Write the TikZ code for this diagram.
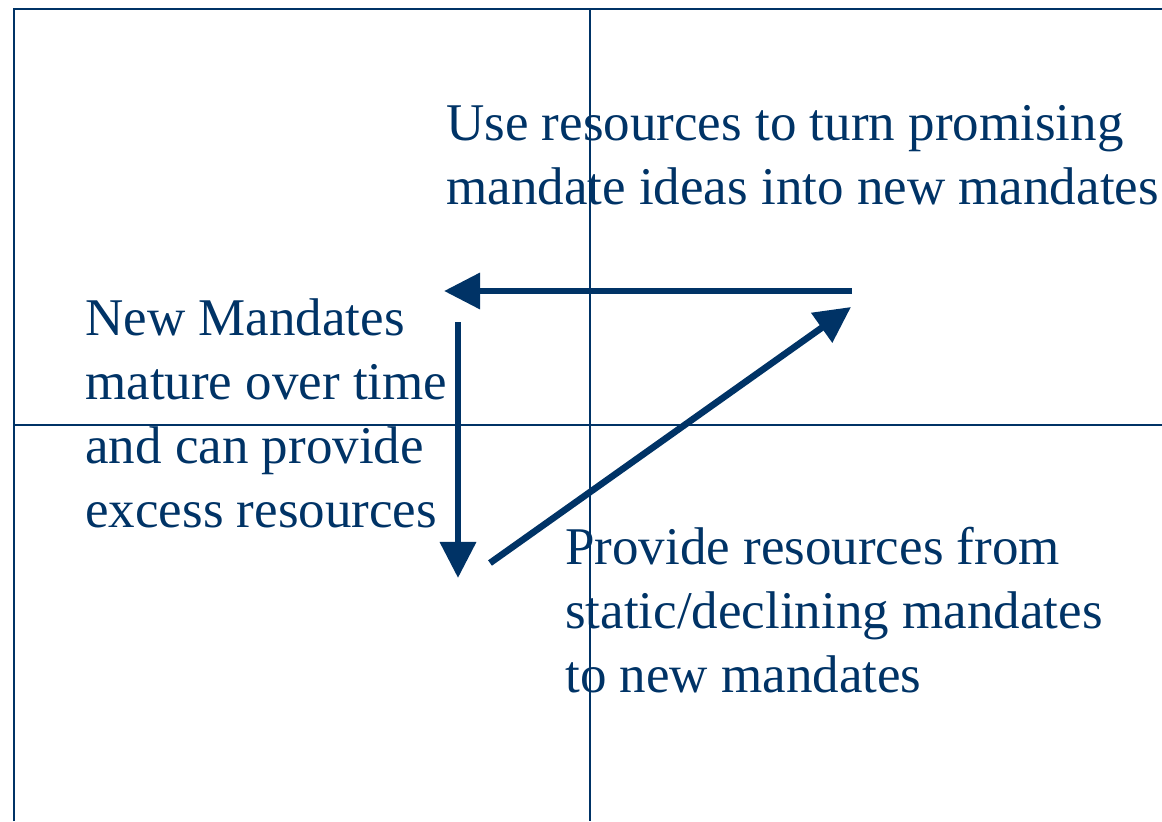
\documentclass[tikz,border=0pt]{standalone}
\usepackage{fontspec}
\setmainfont{Liberation Serif}
\usetikzlibrary{arrows.meta}
\definecolor{navy}{RGB}{0,51,102}
\tikzset{
    quadline/.style={draw=navy, line width=0.9pt},
    frameline/.style={draw=navy, line width=1.4pt},
    flow/.style={draw=navy, line width=4.7pt, -{Triangle[length=0.9cm, width=0.875cm]}},
    note/.style={text=navy, inner sep=0pt, anchor=base west, align=left, font=\fontsize{37.7pt}{45.5pt}\selectfont}
}
\begin{document}
\begin{tikzpicture}[x=0.025cm, y=-0.025cm]
    \useasboundingbox (0,0) rectangle (1162,821);

    % quadrant lines
    \draw[frameline] (14,821) -- (14,9) -- (1162,9);
    \draw[quadline] (590,9) -- (590,821);
    \draw[quadline] (14,425) -- (1162,425);

    % texts (anchored at the baseline of their last line)
    \node[note] (use) at (446,204) {Use resources to turn promising\\mandate ideas into new mandates};
    \node[note] (mature) at (85,527) {New Mandates\\mature over time\\and can provide\\excess resources};
    \node[note] (provide) at (565,692) {Provide resources from\\static/declining mandates\\to new mandates};

    % arrow ends
    \coordinate (top_r) at (852,291);
    \coordinate (top_l) at (444,291);
    \coordinate (left_t) at (458,322);
    \coordinate (left_b) at (458,578);
    \coordinate (diag_s) at (490,563);
    \coordinate (diag_e) at (851,307);

    \draw[flow] (top_r) -- (top_l);
    \draw[flow] (left_t) -- (left_b);
    \draw[flow] (diag_s) -- (diag_e);
\end{tikzpicture}
\end{document}
